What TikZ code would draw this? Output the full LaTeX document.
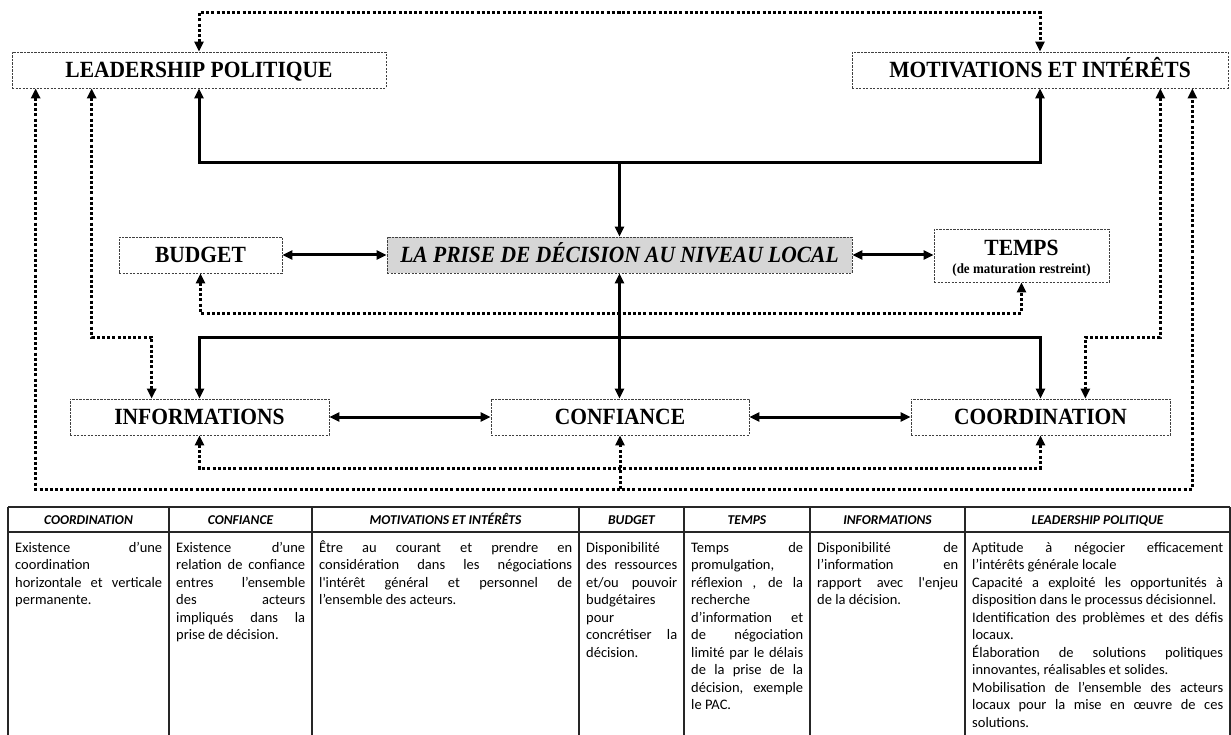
\documentclass[tikz,border=0pt]{standalone}
\usepackage{graphicx}
\usepackage{fontspec}
\setmainfont{Liberation Serif}
\newfontfamily\tabfont{Carlito}
\usetikzlibrary{arrows.meta}
\newcommand\boxf{\fontsize{21.5}{24}\selectfont\bfseries}
\newcommand\tall[1]{\scalebox{1}[1.08]{#1}}
\newcommand\tbodyf{\tabfont\fontsize{14.5}{17.5}\selectfont}
\newcommand\theadf{\tabfont\fontsize{13.5}{16}\selectfont\bfseries\itshape}
\begin{document}
\begin{tikzpicture}[x=1pt,y=-1pt,
  box/.style={draw=black!75, line width=0.7pt, dash pattern=on 2.2pt off 1.3pt, inner sep=0pt, font=\boxf, align=center, minimum height=36pt, text height=15.3pt, text depth=0pt},
  sol/.style={line width=3pt},
  dotc/.style={line width=3pt, dash pattern=on 3pt off 2.2pt},
  arr/.style={-{Triangle[length=10pt,width=9pt]}},
  darr/.style={{Triangle[length=10pt,width=9pt]}-{Triangle[length=10pt,width=9pt]}},
  tabline/.style={line width=1.3pt, black!85},
  thead/.style={font=\theadf, inner sep=0pt, anchor=base},
  tbody/.style={anchor=north west, inner sep=0pt, font=\tbodyf}
]
\useasboundingbox (0,0) rectangle (1231,735);
% ---- boxes
\node[box, minimum width=374pt] (lead) at (199,70) {\tall{LEADERSHIP POLITIQUE}};
\node[box, minimum width=376pt] (motiv) at (1040,70) {\tall{MOTIVATIONS ET INTÉRÊTS}};
\node[box, minimum width=163pt] (budget) at (200.5,255) {\tall{BUDGET}};
\node[box, minimum width=465pt, fill=black!16, font=\boxf\itshape] (center) at (619.5,255) {\tall{LA PRISE DE DÉCISION AU NIVEAU LOCAL}};
\node[box, minimum width=175pt, minimum height=53pt, text height=0pt] (temps) at (1021.5,255.5) {};
\node[inner sep=0pt, font=\boxf] (tempsA) at (1021.5,248) {\tall{TEMPS}};
\node[inner sep=0pt, font=\fontsize{13}{15}\selectfont\bfseries] (tempsB) at (1021.5,270) {\tall{(de maturation restreint)}};
\node[box, minimum width=259pt] (info) at (199.5,417) {\tall{INFORMATIONS}};
\node[box, minimum width=258pt] (conf) at (620,417) {\tall{CONFIANCE}};
\node[box, minimum width=259pt] (coord) at (1040.5,417) {\tall{COORDINATION}};
% ---- helper coordinates
\coordinate (j1) at (619.5,163);
\coordinate (j2) at (619.5,337);
\coordinate (ttop) at (619.5,13);
\coordinate (bmid) at (619.5,313);
\coordinate (imid) at (619.5,468);
\coordinate (lowmid) at (620,489);
\coordinate (lbend) at (120,337);
\coordinate (rbend) at (1120,337);
% ---- solid connectors
\draw[sol,arr] (j1) -| (lead.south);
\draw[sol,arr] (j1) -| (motiv.south);
\draw[sol,arr] (j1) -- (center.north);
\draw[sol,darr] (budget.east) -- (center.west);
\draw[sol,darr] (center.east) -- (center.east -| temps.west);
\draw[sol,darr] (center.south) -- (center.south |- conf.north);
\draw[sol,arr] (j2) -| (info.north);
\draw[sol,arr] (j2) -| (coord.north);
\draw[sol,darr] (info.east) -- (conf.west);
\draw[sol,darr] (conf.east) -- (coord.west);
% ---- dotted connectors
\draw[dotc,darr] (lead.north) |- (ttop) -| (motiv.north);
\draw[dotc,darr] (budget.south) |- (bmid) -| (temps.south);
\draw[dotc,darr] (info.south) |- (imid) -| (coord.south);
\draw[dotc,darr] ([xshift=24pt]lead.south west) |- (lowmid) -| ([xshift=-36pt]motiv.south east);
\draw[dotc,arr] (lowmid) -- (lowmid |- conf.south);
\draw[dotc,darr] ([xshift=80pt]lead.south west) |- (lbend) -| ([xshift=82pt]info.north west);
\draw[dotc,darr] ([xshift=-68pt]motiv.south east) |- (rbend) -| ([xshift=-85pt]coord.north east);
% ---- table
\draw[tabline] (8,507) -- (1230,507);
\draw[tabline] (8,532) -- (1230,532);
\foreach \cx in {8,169,312,579,684,810,965,1230} {\draw[tabline] (\cx,507) -- (\cx,735);}
\node[thead] (h1) at (88.5,524) {COORDINATION};
\node[thead] (h2) at (240.5,524) {CONFIANCE};
\node[thead] (h3) at (445.5,524) {MOTIVATIONS ET INTÉRÊTS};
\node[thead] (h4) at (631.5,524) {BUDGET};
\node[thead] (h5) at (747,524) {TEMPS};
\node[thead] (h6) at (887.5,524) {INFORMATIONS};
\node[thead] (h7) at (1097.5,524) {LEADERSHIP POLITIQUE};
\node[tbody] (b1) at (15,540) {\parbox[t]{147pt}{\strut Existence d’une\linebreak coordination\linebreak horizontale et verticale\linebreak permanente.}};
\node[tbody] (b2) at (176,540) {\parbox[t]{129pt}{\strut Existence d’une\linebreak relation de confiance\linebreak entres l’ensemble\linebreak des acteurs\linebreak impliqués dans la\linebreak prise de décision.}};
\node[tbody] (b3) at (319,540) {\parbox[t]{253pt}{\strut Être au courant et prendre en\linebreak considération dans les négociations\linebreak l'intérêt général et personnel de\linebreak l’ensemble des acteurs.}};
\node[tbody] (b4) at (586,540) {\parbox[t]{91pt}{\strut Disponibilité\linebreak des ressources\linebreak et/ou pouvoir\linebreak budgétaires\linebreak pour\linebreak concrétiser la\linebreak décision.}};
\node[tbody] (b5) at (691,540) {\parbox[t]{112pt}{\strut Temps de\linebreak promulgation,\linebreak réflexion , de la\linebreak recherche\linebreak d’information et\linebreak de négociation\linebreak limité par le délais\linebreak de la prise de la\linebreak décision, exemple\linebreak le PAC.}};
\node[tbody] (b6) at (817,540) {\parbox[t]{141pt}{\strut Disponibilité de\linebreak l’information en\linebreak rapport avec l'enjeu\linebreak de la décision.}};
\node[tbody] (b7) at (972,540) {\parbox[t]{251pt}{\strut Aptitude à négocier efficacement\linebreak l’intérêts générale locale\par Capacité a exploité les opportunités à\linebreak disposition dans le processus décisionnel.\par Identification des problèmes et des défis\linebreak locaux.\par Élaboration de solutions politiques\linebreak innovantes, réalisables et solides.\par Mobilisation de l’ensemble des acteurs\linebreak locaux pour la mise en œuvre de ces\linebreak solutions.}};
\end{tikzpicture}
\end{document}
